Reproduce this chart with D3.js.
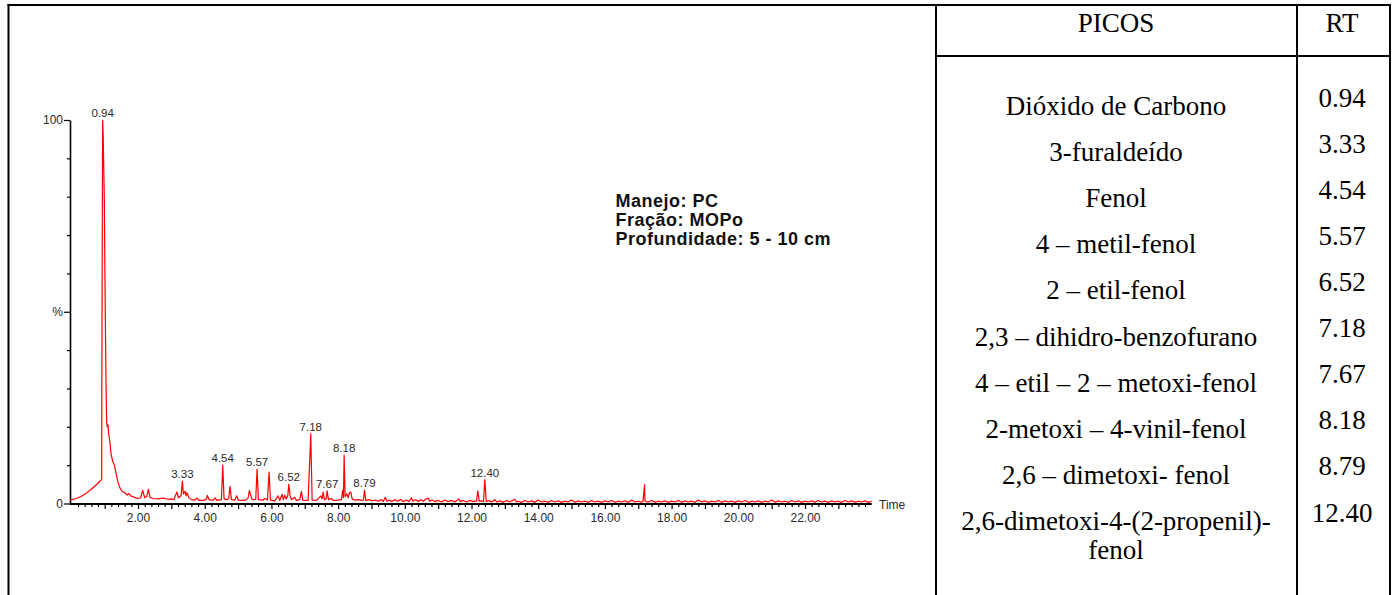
<!DOCTYPE html>
<html>
<head>
<meta charset="utf-8">
<script src="https://cdn.jsdelivr.net/npm/d3@7"></script>
<style>
  html, body { margin: 0; padding: 0; background: #fff; }
  svg { display: block; }
</style>
</head>
<body>
<svg id="fig" width="1392" height="595"></svg>
<script>
// Total ion chromatogram, intensity in % of the base peak vs retention time (min)
const ticTrace = [
  [-0.04, 0.9], [0.15, 1.3], [0.30, 1.9], [0.45, 2.7], [0.60, 3.7], [0.75, 4.9],
  [0.88, 6.0], [0.91, 6.4], [0.915, 31], [0.925, 62], [0.935, 90], [0.94, 100],
  [0.955, 96], [0.99, 79], [1.005, 62], [1.02, 48], [1.04, 31], [1.06, 21],
  [1.08, 20], [1.10, 20.5], [1.12, 18], [1.15, 16.5], [1.19, 13], [1.24, 11],
  [1.29, 10], [1.34, 8], [1.40, 5.5], [1.46, 4], [1.52, 3.2], [1.60, 2.8],
  [1.68, 2.2], [1.73, 2.6], [1.78, 2.0], [1.90, 1.6], [2.00, 1.3], [2.08, 1.5],
  [2.14, 3.4], [2.20, 1.5], [2.26, 1.8], [2.31, 3.7], [2.36, 1.6], [2.45, 1.3],
  [2.60, 1.2], [2.75, 1.4], [2.90, 1.1], [3.00, 1.2], [3.08, 1.0], [3.12, 2.0],
  [3.17, 3.0], [3.21, 1.5], [3.29, 2.0], [3.33, 5.8], [3.36, 2.5], [3.41, 3.2],
  [3.44, 2.0], [3.47, 2.8], [3.52, 1.6], [3.60, 1.0], [3.70, 0.9], [3.77, 1.4],
  [3.82, 0.8], [3.95, 0.8], [4.04, 1.0], [4.08, 2.1], [4.13, 1.0], [4.25, 0.8],
  [4.31, 1.5], [4.36, 0.8], [4.50, 1.0], [4.54, 10.0], [4.58, 1.2], [4.66, 1.0],
  [4.72, 1.3], [4.76, 4.5], [4.80, 1.0], [4.90, 0.9], [4.96, 2.0], [5.00, 0.9],
  [5.20, 0.8], [5.30, 1.4], [5.34, 3.4], [5.38, 2.2], [5.42, 1.0], [5.53, 1.1],
  [5.57, 9.0], [5.61, 1.0], [5.75, 0.9], [5.80, 1.3], [5.88, 0.9], [5.93, 8.2],
  [5.97, 0.9], [6.10, 0.7], [6.20, 2.0], [6.25, 0.8], [6.32, 2.4], [6.36, 1.0],
  [6.40, 2.2], [6.44, 1.2], [6.49, 2.0], [6.52, 5.0], [6.56, 2.0], [6.60, 1.0],
  [6.70, 1.6], [6.75, 0.8], [6.85, 1.0], [6.90, 3.2], [6.94, 0.9], [7.10, 0.8],
  [7.18, 18.2], [7.22, 0.9], [7.35, 0.8], [7.42, 1.4], [7.48, 2.0], [7.52, 1.2],
  [7.55, 3.0], [7.59, 1.0], [7.64, 1.2], [7.67, 3.3], [7.71, 1.0], [7.80, 1.3],
  [7.85, 0.8], [8.00, 0.9], [8.10, 1.0], [8.14, 3.5], [8.16, 1.5], [8.18, 12.6],
  [8.21, 1.8], [8.26, 2.5], [8.30, 1.5], [8.34, 2.8], [8.38, 3.0], [8.42, 1.2],
  [8.50, 0.9], [8.60, 1.0], [8.70, 0.8], [8.76, 0.9], [8.79, 3.5], [8.83, 0.8],
  [8.95, 1.0], [9.00, 0.7], [9.10, 0.9], [9.20, 0.6], [9.30, 1.0], [9.35, 0.5],
  [9.42, 1.6], [9.46, 0.6], [9.55, 0.9], [9.60, 0.5], [9.70, 1.0], [9.80, 0.6],
  [9.88, 1.1], [9.95, 0.5], [10.05, 0.9], [10.12, 0.5], [10.20, 1.5], [10.24, 0.6],
  [10.32, 1.0], [10.40, 0.5], [10.48, 1.0], [10.55, 0.6], [10.62, 1.1], [10.70, 1.4],
  [10.75, 0.6], [10.82, 0.9], [10.90, 0.5], [11.00, 0.8], [11.10, 0.4], [11.20, 0.9],
  [11.30, 0.5], [11.40, 0.8], [11.50, 0.4], [11.62, 1.2], [11.66, 0.5], [11.75, 0.8],
  [11.85, 0.4], [11.95, 0.8], [12.05, 0.5], [12.15, 0.7], [12.19, 3.3], [12.23, 0.6],
  [12.30, 0.7], [12.36, 0.5], [12.40, 6.2], [12.44, 0.5], [12.52, 0.8], [12.60, 0.4],
  [12.70, 1.0], [12.75, 0.4], [12.85, 0.7], [12.95, 0.3], [13.05, 0.8], [13.15, 0.4],
  [13.30, 1.1], [13.35, 0.4],
  [17.14, 0.5], [17.19, 4.9], [17.24, 0.5]
];

// low-level baseline noise of the late run, from 13.4 min in 0.1 min steps
const tailStart = 13.4;
const tailStep = 0.1;
const tailIntensity = [
  0.6, 0.3, 0.8, 0.4, 0.7, 0.3, 0.9, 0.4, 0.6, 0.3,
  0.8, 0.4, 0.7, 0.3, 0.6, 0.4, 0.9, 0.3, 0.7, 0.4,
  0.6, 0.3, 0.8, 0.4, 0.6, 0.3, 0.7, 0.4, 0.8, 0.3,
  0.6, 0.4, 0.7, 0.3, 0.9, 0.4, 0.6, 0.3, 0.7, 0.4,
  0.8, 0.3, 0.6, 0.4, 0.7, 0.3, 0.6, 0.4, 0.8, 0.3,
  0.7, 0.4, 0.6, 0.3, 0.9, 0.4, 0.7, 0.3, 0.6, 0.4,
  0.8, 0.3, 0.7, 0.4, 0.6, 0.3, 0.7, 0.4, 0.8, 0.3,
  0.6, 0.4, 0.7, 0.3, 0.6, 0.4, 0.9, 0.3, 0.7, 0.4,
  0.6, 0.3, 0.8, 0.4, 0.7, 0.3, 0.6, 0.4, 0.7, 0.3,
  0.8, 0.4, 0.6, 0.3, 0.7, 0.4, 0.6, 0.3, 0.8, 0.4,
  0.7, 0.3, 0.6, 0.4, 0.7, 0.3, 0.6
];

// identified peaks: retention time and compound
const peakRT = [0.94, 3.33, 4.54, 5.57, 6.52, 7.18, 7.67, 8.18, 8.79, 12.40];
const peakRTLabels = ["0.94", "3.33", "4.54", "5.57", "6.52", "7.18", "7.67", "8.18", "8.79", "12.40"];
const peakCompounds = [
  "Dióxido de Carbono",
  "3-furaldeído",
  "Fenol",
  "4 – metil-fenol",
  "2 – etil-fenol",
  "2,3 – dihidro-benzofurano",
  "4 – etil – 2 – metoxi-fenol",
  "2-metoxi – 4-vinil-fenol",
  "2,6 – dimetoxi- fenol",
  "2,6-dimetoxi-4-(2-propenil)-\nfenol"
];

const timeTickLabels = ["2.00", "4.00", "6.00", "8.00", "10.00", "12.00", "14.00", "16.00", "18.00", "20.00", "22.00"];
const infoLines = ["Manejo: PC", "Fração: MOPo", "Profundidade: 5 - 10 cm"];
const tableHeaders = ["PICOS", "RT"];

// ---------------------------------------------------------------
const svg = d3.select("#fig");
svg.append("rect").attr("width", 1392).attr("height", 595).attr("fill", "#fff");

const trace = ticTrace
  .concat(tailIntensity.map((v, i) => [tailStart + i * tailStep, v]))
  .sort((a, b) => a[0] - b[0]);

const x = d3.scaleLinear().domain([-0.04, 24.0]).range([70, 871.7]);
const y = d3.scaleLinear().domain([0, 100]).range([503.5, 120]);

const chartFont = "'Liberation Sans', Arial, sans-serif";
const labelColor = "#2a2a2a";

// y axis: ticks every 10 %, labels at 0, 50 (%) and 100
const yTicks = d3.range(0, 101, 10);
const yAxis = d3.axisLeft(y)
  .tickValues(yTicks)
  .tickSize(3)
  .tickSizeOuter(0)
  .tickPadding(2)
  .tickFormat(d => d === 100 ? "100" : d === 50 ? "%" : d === 0 ? "0" : "");
const gy = svg.append("g").attr("transform", "translate(70,0)").call(yAxis);
gy.select(".domain").attr("stroke", "#000").attr("stroke-width", 1.6);
gy.selectAll(".tick line").attr("stroke", "#000").attr("stroke-width", 1.2)
  .attr("x2", d => (d % 50 === 0 ? -6 : -3));
gy.selectAll(".tick text")
  .attr("x", -7)
  .attr("font-family", chartFont).attr("font-size", 12).attr("fill", labelColor);

// x axis: minor ticks every 0.2 min, longer at whole minutes
const majorTimes = timeTickLabels.map(Number);
const xTicks = d3.range(0, 120).map(i => +(i * 0.2).toFixed(1)).filter(t => t > 0);
const xAxis = d3.axisBottom(x)
  .tickValues(xTicks)
  .tickSize(3)
  .tickSizeOuter(0)
  .tickPadding(6)
  .tickFormat(d => {
    const k = majorTimes.indexOf(d);
    return k >= 0 ? timeTickLabels[k] : "";
  });
const gx = svg.append("g").attr("transform", "translate(0,504)").call(xAxis);
gx.select(".domain").attr("stroke", "#000").attr("stroke-width", 2)
  .attr("d", `M${x(-0.04)},0H${x(24.0)}`);
gx.selectAll(".tick line").attr("stroke", "#000").attr("stroke-width", 1.2)
  .attr("y2", d => (Math.abs(d - Math.round(d)) < 1e-6 ? 5 : 3));
gx.selectAll(".tick text")
  .attr("font-family", chartFont).attr("font-size", 12).attr("fill", labelColor);

svg.append("text")
  .attr("x", 879).attr("y", 509)
  .attr("font-family", chartFont).attr("font-size", 12).attr("fill", labelColor)
  .text("Time");

// chromatogram trace
const line = d3.line().x(d => x(d[0])).y(d => y(d[1]));
svg.append("path")
  .datum(trace)
  .attr("d", line)
  .attr("fill", "none")
  .attr("stroke", "#ff0000")
  .attr("stroke-width", 1.2)
  .attr("stroke-linejoin", "round");

// retention-time labels above the identified peaks
const apex = t => trace.find(p => Math.abs(p[0] - t) < 1e-6)[1];
svg.append("g").selectAll("text")
  .data(peakRT)
  .join("text")
  .attr("x", d => x(d))
  .attr("y", d => y(apex(d)) - 3)
  .attr("text-anchor", "middle")
  .attr("font-family", chartFont).attr("font-size", 11.5).attr("fill", labelColor)
  .text((d, i) => peakRTLabels[i]);

// sample description
svg.append("g").selectAll("text")
  .data(infoLines)
  .join("text")
  .attr("x", 615.5)
  .attr("y", (d, i) => [207, 226, 245][i])
  .attr("font-family", chartFont).attr("font-size", 18).attr("font-weight", "bold")
  .attr("letter-spacing", 0.5)
  .attr("fill", "#111")
  .text(d => d);

// frame and table rules
const rule = (x1, y1, x2, y2) => svg.append("line")
  .attr("x1", x1).attr("y1", y1).attr("x2", x2).attr("y2", y2)
  .attr("stroke", "#000").attr("stroke-width", 2);
rule(7.5, 5, 1391, 5);
rule(8.5, 4, 8.5, 595);
rule(936, 4, 936, 595);
rule(1297, 4, 1297, 595);
rule(1390, 4, 1390, 595);
rule(936, 56, 1390, 56);

const tableFont = "'Liberation Serif', 'Times New Roman', serif";
const nameX = 1116, rtX = 1342;
svg.append("g").selectAll("text")
  .data(tableHeaders)
  .join("text")
  .attr("x", (d, i) => (i === 0 ? nameX : rtX))
  .attr("y", 32)
  .attr("text-anchor", "middle")
  .attr("font-family", tableFont).attr("font-size", 27).attr("fill", "#000")
  .text(d => d);

const rowY = d3.scaleLinear().domain([0, peakCompounds.length - 1]).range([115, 530]);
const names = svg.append("g").selectAll("text")
  .data(peakCompounds)
  .join("text")
  .attr("text-anchor", "middle")
  .attr("font-family", tableFont).attr("font-size", 27).attr("fill", "#000");
names.each(function (d, i) {
  d3.select(this).selectAll("tspan")
    .data(d.split("\n"))
    .join("tspan")
    .attr("x", nameX)
    .attr("y", (s, k) => rowY(i) + k * 28.5)
    .text(s => s);
});

svg.append("g").selectAll("text")
  .data(peakRTLabels)
  .join("text")
  .attr("x", rtX)
  .attr("y", (d, i) => rowY(i) - 8.4)
  .attr("text-anchor", "middle")
  .attr("font-family", tableFont).attr("font-size", 27).attr("fill", "#000")
  .text(d => d);
</script>
</body>
</html>
